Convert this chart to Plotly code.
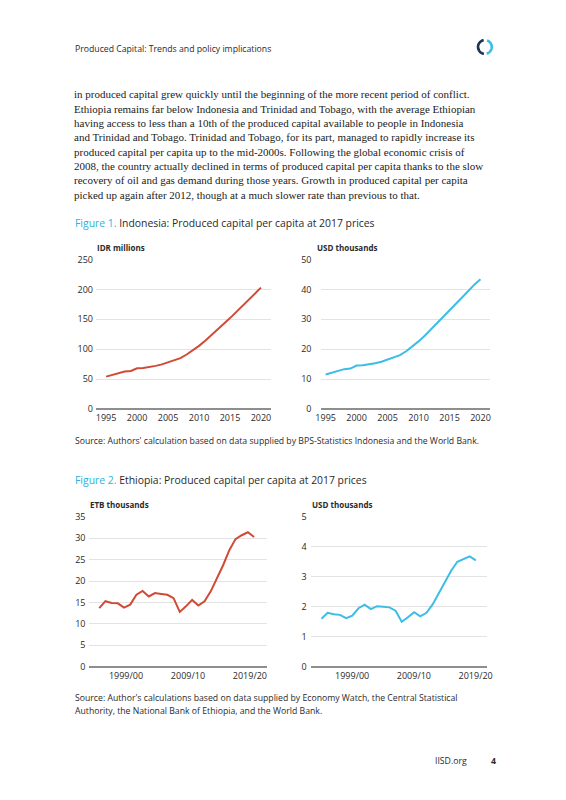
import math
import plotly.graph_objects as go

# ---------------- data ----------------
years = [1995, 1996, 1997, 1998, 1999, 2000, 2001, 2002, 2003, 2004, 2005, 2006, 2007,
         2008, 2009, 2010, 2011, 2012, 2013, 2014, 2015, 2016, 2017, 2018, 2019, 2020]
idn_idr_millions = [54, 57, 60, 62.5, 63.5, 68, 68.5, 70, 72, 74.5, 78, 81, 85,
                    91, 98, 105.5, 114, 123, 133, 142.5, 152, 162, 172, 182.5, 193, 203]
idn_usd_thousands = [11.5, 12.1, 12.8, 13.3, 13.5, 14.5, 14.6, 14.9, 15.3, 15.8, 16.6, 17.2, 18.0,
                     19.3, 20.9, 22.6, 24.5, 26.6, 28.7, 30.8, 32.8, 34.9, 37.1, 39.4, 41.6, 43.4]
year_ticks = [1995, 2000, 2005, 2010, 2015, 2020]

fiscal_years = ["1995/96", "1996/97", "1997/98", "1998/99", "1999/00", "2000/01", "2001/02",
                "2002/03", "2003/04", "2004/05", "2005/06", "2006/07", "2007/08", "2008/09",
                "2009/10", "2010/11", "2011/12", "2012/13", "2013/14", "2014/15", "2015/16",
                "2016/17", "2017/18", "2018/19", "2019/20", "2020/21"]
eth_etb_thousands = [13.7, 15.3, 14.9, 14.8, 13.8, 14.5, 16.8, 17.7, 16.4, 17.2, 17.0, 16.8, 16.0,
                     12.8, 14.1, 15.6, 14.3, 15.3, 17.6, 20.6, 23.7, 27.2, 29.8, 30.7, 31.4, 30.3]
eth_usd_thousands = [1.6, 1.8, 1.75, 1.73, 1.62, 1.7, 1.95, 2.07, 1.92, 2.02, 2.0, 1.98, 1.87,
                     1.5, 1.65, 1.82, 1.68, 1.8, 2.08, 2.45, 2.8, 3.2, 3.5, 3.6, 3.68, 3.55]
fiscal_ticks = ["1999/00", "2009/10", "2019/20"]

# ---------------- style ----------------
PAGE_W, PAGE_H = 566, 800
OFF = 8                      # default page margin of the html body
W, H = PAGE_W - 2 * OFF, PAGE_H - 2 * OFF
RED = "#d04a35"
BLUE = "#3bbde6"
NAVY = "#1c3553"
TXT = "#2a2a2a"
GRID = "#e3e3e3"
ZERO = "#8e8e8e"
SANS = "'Open Sans', 'Noto Sans', sans-serif"
SERIF = "'Liberation Serif', 'DejaVu Serif', serif"


def px(x):
    return (x - OFF) / W


def py(y):
    return 1 - (y - OFF) / H


fig = go.Figure()
fig.add_trace(go.Scatter(x=years, y=idn_idr_millions, mode="lines", xaxis="x", yaxis="y",
                         line=dict(color=RED, width=2), hoverinfo="skip"))
fig.add_trace(go.Scatter(x=years, y=idn_usd_thousands, mode="lines", xaxis="x2", yaxis="y2",
                         line=dict(color=BLUE, width=2), hoverinfo="skip"))
fig.add_trace(go.Scatter(x=fiscal_years, y=eth_etb_thousands, mode="lines", xaxis="x3", yaxis="y3",
                         line=dict(color=RED, width=2), hoverinfo="skip"))
fig.add_trace(go.Scatter(x=fiscal_years, y=eth_usd_thousands, mode="lines", xaxis="x4", yaxis="y4",
                         line=dict(color=BLUE, width=2), hoverinfo="skip"))

tickfont = dict(family=SANS, size=9, color=TXT)


def xax(domain, anchor, rng, **kw):
    d = dict(domain=domain, anchor=anchor, range=rng, showgrid=False, zeroline=False,
             showline=False, ticks="", tickfont=tickfont, fixedrange=True)
    d.update(kw)
    return d


def yax(domain, anchor, rng, dtick, **kw):
    d = dict(domain=domain, anchor=anchor, range=rng, dtick=dtick, showgrid=True,
             gridcolor=GRID, gridwidth=1, zeroline=True, zerolinecolor=ZERO,
             zerolinewidth=1.6, showline=False, ticks="", tickfont=tickfont, fixedrange=True)
    d.update(kw)
    return d


fig1_y = [py(408.5), py(256.7)]
fig2_y = [py(670.7), py(518.3)]

fig.update_layout(
    width=W, height=H,
    margin=dict(l=0, r=0, t=0, b=0),
    paper_bgcolor="white", plot_bgcolor="white",
    showlegend=False,
    xaxis=xax([px(91.7), px(270.7)], "y", [1993.37, 2021.69], tickvals=year_ticks,
              ticklabelstandoff=2),
    yaxis=yax(fig1_y, "x", [0, 250], 50, ticklabelstandoff=2),
    xaxis2=xax([px(321.7), px(494)], "y2", [1994.32, 2021.58], tickvals=year_ticks,
               ticklabelstandoff=2),
    yaxis2=yax(fig1_y, "x2", [0, 50], 10, ticklabelstandoff=9),
    xaxis3=xax([px(85), px(266)], "y3", [-1.58, 27.06], type="category",
               tickvals=fiscal_ticks, ticklabelstandoff=2, ticklabelshift=2),
    yaxis3=yax(fig2_y, "x3", [0, 35], 5, ticklabelstandoff=3),
    xaxis4=xax([px(310.7), px(491)], "y4", [-1.75, 26.86], type="category",
               tickvals=fiscal_ticks, ticklabelstandoff=2, ticklabelshift=6),
    yaxis4=yax(fig2_y, "x4", [0, 5], 1, ticklabelstandoff=3),
)

ann = []


def text(x, y, s, size, color=TXT, family=SANS, xanchor="left"):
    ann.append(dict(x=px(x), y=py(y), xref="paper", yref="paper", text=s, showarrow=False,
                    xanchor=xanchor, yanchor="middle", align="left",
                    font=dict(family=family, size=size, color=color)))


# header
text(68, 43, "Produced Capital: Trends and policy implications", 8.7)

# body paragraph
body = [
    "in produced capital grew quickly until the beginning of the more recent period of conflict.",
    "Ethiopia remains far below Indonesia and Trinidad and Tobago, with the average Ethiopian",
    "having access to less than a 10th of the produced capital available to people in Indonesia",
    "and Trinidad and Tobago. Trinidad and Tobago, for its part, managed to rapidly increase its",
    "produced capital per capita up to the mid-2000s. Following the global economic crisis of",
    "2008, the country actually declined in terms of produced capital per capita thanks to the slow",
    "recovery of oil and gas demand during those years. Growth in produced capital per capita",
    "picked up again after 2012, though at a much slower rate than previous to that.",
]
for i, line in enumerate(body):
    text(67, 88.5 + i * 14.6, line, 11.0, color="#222222", family=SERIF)

# figure titles
text(68, 219, "<span style='color:#2bb1e3'>Figure 1.</span> Indonesia: Produced capital per capita at 2017 prices", 10.4)
text(68, 481, "<span style='color:#2bb1e3'>Figure 2.</span> Ethiopia: Produced capital per capita at 2017 prices", 10.4)

# unit labels
text(91, 244, "<b>IDR millions</b>", 8.0)
text(315, 244, "<b>USD thousands</b>", 8.0)
text(83, 506, "<b>ETB thousands</b>", 8.0)
text(310, 506, "<b>USD thousands</b>", 8.0)

# sources
text(68, 441, "Source: Authors' calculation based on data supplied by BPS-Statistics Indonesia and the World Bank.", 8.7)
text(68, 703, "Source: Author's calculations based on data supplied by Economy Watch, the Central Statistical", 8.7)
text(68, 716, "Authority, the National Bank of Ethiopia, and the World Bank.", 8.7)

# footer
text(472, 767, "IISD.org", 8.7, xanchor="right")
text(493, 767, "<b>4</b>", 8.7)

fig.update_layout(annotations=ann)

# logo: ring of two arcs
cx, cy, r = 488.5, 40.5, 7.0


def arc_path(a0, a1, n=30):
    pts = []
    for k in range(n + 1):
        a = math.radians(a0 + (a1 - a0) * k / n)
        X = cx + r * math.cos(a)
        Y = cy - r * math.sin(a)
        pts.append((px(X), py(Y)))
    return "M " + " L ".join(f"{a:.5f},{b:.5f}" for a, b in pts)


fig.add_shape(type="path", path=arc_path(100, 262), xref="paper", yref="paper",
              line=dict(color=NAVY, width=2.6))
fig.add_shape(type="path", path=arc_path(-75, 72), xref="paper", yref="paper",
              line=dict(color=BLUE, width=2.6))

fig.write_html("out.html", config={"displayModeBar": False})
